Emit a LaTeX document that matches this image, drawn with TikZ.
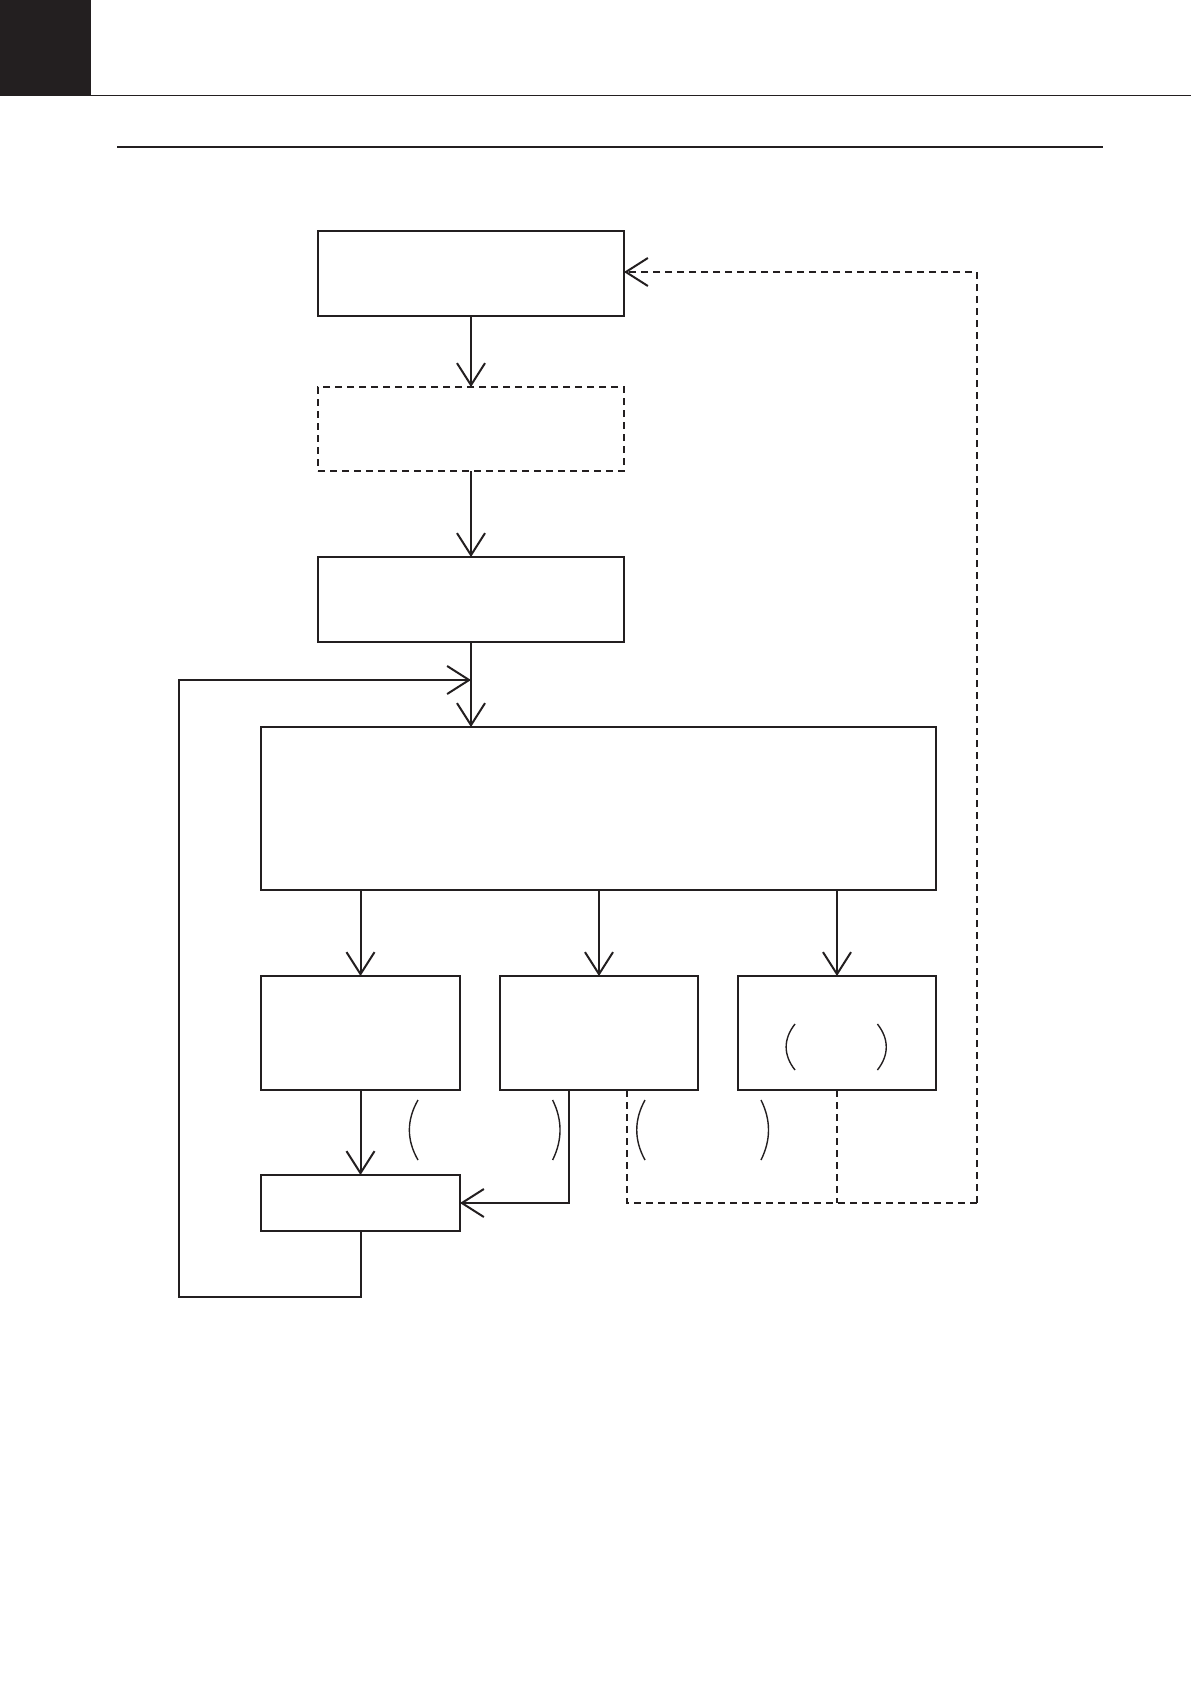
\documentclass[tikz,border=0pt]{standalone}
\usetikzlibrary{arrows.meta}
\definecolor{ink}{RGB}{35,31,32}
\begin{document}
\begin{tikzpicture}[x=1pt,y=-1pt,
  box/.style={draw=ink,line width=2pt,inner sep=0pt,outer sep=0pt,rectangle},
  dbox/.style={box,dash pattern=on 7pt off 5pt},
  conn/.style={draw=ink,line width=2pt,-{Straight Barb[length=22pt,width=28pt,line width=2pt]}},
  dconn/.style={conn,dash pattern=on 7pt off 5pt},
  dline/.style={draw=ink,line width=2pt,dash pattern=on 7pt off 5pt},
  paren/.style={draw=ink,line width=1.4pt}]
\useasboundingbox (0,0) rectangle (1191,1684);
% header
\fill[ink] (0,0) rectangle (91,96);
\draw[ink,line width=1.3pt] (91,95.5) -- (1191,95.5);
\draw[ink,line width=2pt] (117,147) -- (1103,147);
% nodes
\node[box,minimum width=306pt,minimum height=85pt] (b1) at (471,273.5) {};
\node[dbox,minimum width=306pt,minimum height=84pt] (b2) at (471,429) {};
\node[box,minimum width=306pt,minimum height=85pt] (b3) at (471,599.5) {};
\node[box,minimum width=675pt,minimum height=163pt] (big) at (598.5,808.5) {};
\node[box,minimum width=199pt,minimum height=114pt] (A) at (360.5,1033) {};
\node[box,minimum width=198pt,minimum height=114pt] (B) at (599,1033) {};
\node[box,minimum width=198pt,minimum height=114pt] (C) at (837,1033) {};
\node[box,minimum width=199pt,minimum height=56pt] (D) at (360.5,1203) {};
% coordinates
\coordinate (kB) at (569,1203);
\coordinate (dB) at (627,1203);
\coordinate (dR) at (977,1203);
\coordinate (tr) at (977,272);
\coordinate (lp) at (179,1297);
\coordinate (lt) at (471,680);
% connectors
\draw[conn] (b1.south) -- (b2.north);
\draw[conn] (b2.south) -- (b3.north);
\draw[conn] (b3.south) -- (b3.south |- big.north);
\draw[conn] (A.north |- big.south) -- (A.north);
\draw[conn] (B.north |- big.south) -- (B.north);
\draw[conn] (C.north |- big.south) -- (C.north);
\draw[conn] (A.south) -- (D.north);
\draw[conn] (B.south -| kB) |- (D.east);
\draw[conn] (D.south) |- (lp) |- (lt);
\draw[dline] (B.south -| dB) -- (dB) -- (dR);
\draw[dconn] (dR) -- (tr) -- (tr -| b1.east);
\draw[dline] (C.south) -- (C.south |- dR);
% parentheses
\draw[paren] (795,1024) .. controls (783.2,1039) and (783.2,1055) .. (795,1070);
\draw[paren] (877.4,1024) .. controls (889.2,1039) and (889.2,1055) .. (877.4,1070);
\draw[paren] (418,1100) .. controls (406.5,1120) and (406.5,1140) .. (418,1160);
\draw[paren] (552.6,1100) .. controls (562.5,1120) and (562.5,1140) .. (552.6,1160);
\draw[paren] (645,1100) .. controls (634,1120) and (634,1140) .. (645,1160);
\draw[paren] (761,1100) .. controls (771,1120) and (771,1140) .. (761,1160);
\end{tikzpicture}
\end{document}
